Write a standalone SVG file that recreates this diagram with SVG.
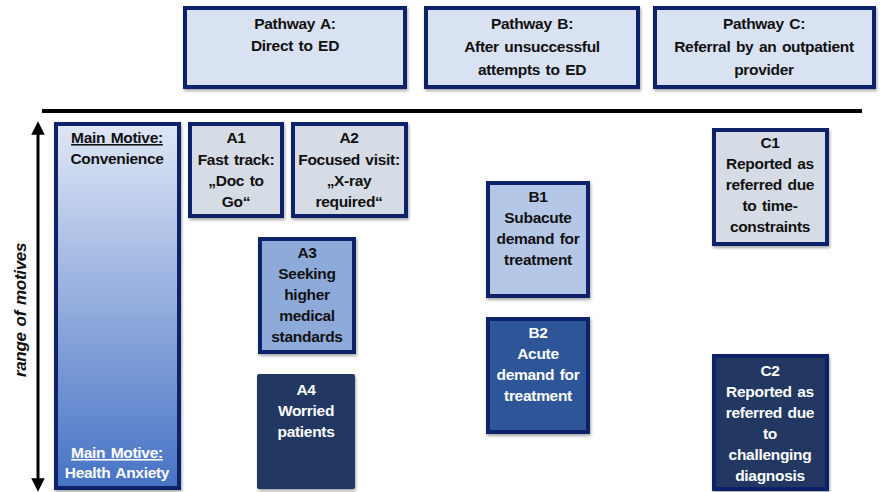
<svg xmlns="http://www.w3.org/2000/svg" width="881" height="492" viewBox="0 0 881 492">
<defs>
<linearGradient id="g" x1="0" y1="0" x2="0" y2="1">
<stop offset="0" stop-color="#dfe7f6"/>
<stop offset="1" stop-color="#4672c4"/>
</linearGradient>
<filter id="sh" x="-10%" y="-10%" width="130%" height="130%">
<feDropShadow dx="1" dy="2" stdDeviation="1.5" flood-color="#000" flood-opacity="0.35"/>
</filter>
<marker id="ah" viewBox="0 0 10 10" refX="5" refY="5" markerWidth="4.5" markerHeight="4.5" orient="auto-start-reverse">
<path d="M0,0 L10,5 L0,10 z" fill="#000"/>
</marker>
</defs>
<style>
.b{stroke:#0b2468;stroke-width:4;filter:url(#sh)}
text{font-family:"Liberation Sans",Arial,sans-serif;font-weight:bold;font-size:15.5px;text-anchor:middle;letter-spacing:-0.3px;word-spacing:1.5px}
.d{fill:#111}
.w{fill:#fff}
</style>
<g id="pathwayA"><rect class="b" x="185" y="8" width="220" height="79" fill="#d9e2f3"/>
<text class="d" x="295" y="29">Pathway A:</text><text class="d" x="295" y="51">Direct to ED</text></g>
<g id="pathwayB"><rect class="b" x="426" y="8" width="212" height="79" fill="#d9e2f3"/>
<text class="d" x="532" y="29">Pathway B:</text><text class="d" x="532" y="52">After unsuccessful</text><text class="d" x="532" y="75">attempts to ED</text></g>
<g id="pathwayC"><rect class="b" x="655" y="8" width="219" height="79" fill="#d9e2f3"/>
<text class="d" x="764" y="29">Pathway C:</text><text class="d" x="764" y="52">Referral by an outpatient</text><text class="d" x="764" y="75">provider</text></g>
<g id="connectors">
<line x1="42" y1="111" x2="862" y2="111" stroke="#000" stroke-width="4"/>
<line x1="38" y1="128" x2="38" y2="485" stroke="#000" stroke-width="3" marker-start="url(#ah)" marker-end="url(#ah)"/>
</g>
<text x="0" y="0" transform="translate(26,310) rotate(-90)" style="font-style:italic;font-size:17px" class="d">range of motives</text>
<g id="motives"><rect class="b" x="56" y="124" width="123" height="364" fill="url(#g)"/>
<text class="d" x="117" y="143" text-decoration="underline">Main Motive:</text><text class="d" x="117" y="164">Convenience</text>
<text class="w" x="117" y="458" text-decoration="underline">Main Motive:</text><text class="w" x="117" y="478">Health Anxiety</text></g>
<g id="A1"><rect class="b" x="190" y="124" width="92" height="92" fill="#d6dce5"/>
<text class="d" x="236" y="143">A1</text><text class="d" x="236" y="165">Fast track:</text><text class="d" x="236" y="186">„Doc to</text><text class="d" x="236" y="207">Go“</text></g>
<g id="A2"><rect class="b" x="293" y="124" width="113" height="92" fill="#d6dce5"/>
<text class="d" x="349" y="143">A2</text><text class="d" x="349" y="165">Focused visit:</text><text class="d" x="349" y="186">„X-ray</text><text class="d" x="349" y="207">required“</text></g>
<g id="A3"><rect class="b" x="260" y="239" width="94" height="113" fill="#8eaadb"/>
<text class="d" x="307" y="258">A3</text><text class="d" x="307" y="279">Seeking</text><text class="d" x="307" y="300">higher</text><text class="d" x="307" y="321">medical</text><text class="d" x="307" y="342">standards</text></g>
<g id="A4"><rect x="257" y="374" width="98" height="115" rx="2" fill="#203864" filter="url(#sh)"/>
<text class="w" x="306" y="395">A4</text><text class="w" x="306" y="416">Worried</text><text class="w" x="306" y="437">patients</text></g>
<g id="B1"><rect class="b" x="488" y="183" width="100" height="113" fill="#b4c7e7"/>
<text class="d" x="538" y="202">B1</text><text class="d" x="538" y="223">Subacute</text><text class="d" x="538" y="244">demand for</text><text class="d" x="538" y="265">treatment</text></g>
<g id="B2"><rect class="b" x="488" y="319" width="100" height="113" fill="#2f5597"/>
<text class="w" x="538" y="338">B2</text><text class="w" x="538" y="359">Acute</text><text class="w" x="538" y="380">demand for</text><text class="w" x="538" y="401">treatment</text></g>
<g id="C1"><rect class="b" x="714" y="130" width="113" height="114" fill="#d6dce5"/>
<text class="d" x="770" y="148">C1</text><text class="d" x="770" y="169">Reported as</text><text class="d" x="770" y="190">referred due</text><text class="d" x="770" y="211">to time-</text><text class="d" x="770" y="232">constraints</text></g>
<g id="C2"><rect class="b" x="714" y="356" width="113" height="133" fill="#203864"/>
<text class="w" x="770" y="376">C2</text><text class="w" x="770" y="397">Reported as</text><text class="w" x="770" y="418">referred due</text><text class="w" x="770" y="439">to</text><text class="w" x="770" y="460">challenging</text><text class="w" x="770" y="481">diagnosis</text></g>
</svg>
